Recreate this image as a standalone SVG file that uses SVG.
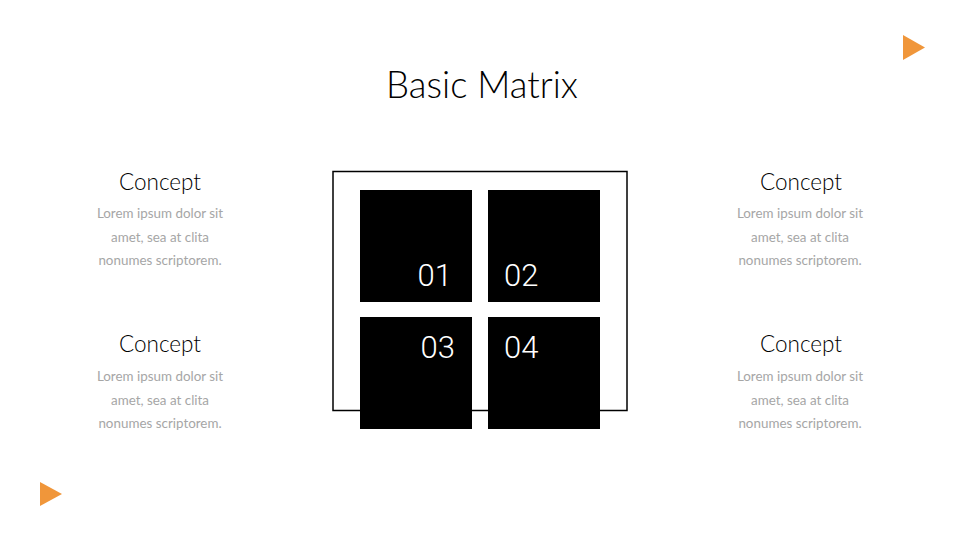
<svg xmlns="http://www.w3.org/2000/svg" width="960" height="540" viewBox="0 0 960 540">
<style>
.title{font-family:Lato,"Noto Sans",sans-serif;font-size:36.5px;font-weight:300;fill:#000;text-anchor:middle}
.head{font-family:Lato,"Noto Sans",sans-serif;font-size:22.5px;font-weight:300;fill:#000;text-anchor:middle}
.body{font-family:Lato,"Noto Sans",sans-serif;font-size:13.4px;fill:#A6A6A6;text-anchor:middle}
.num{font-family:Roboto,"Open Sans",sans-serif;font-size:31px;font-weight:300;fill:#fff}
.sq{fill:#000}
.tri{fill:#F0963A}
</style>
<rect width="960" height="540" fill="#fff"/>
<polygon class="tri" points="903,35 925,47.5 903,60"/>
<polygon class="tri" points="40,482 62,494 40,506"/>
<text class="title" x="482" y="98">Basic Matrix</text>
<g id="matrix">
<rect x="333" y="171.5" width="294" height="239" fill="none" stroke="#000" stroke-width="1.5"/>
<g id="q1"><rect class="sq" x="360" y="190" width="112" height="112"/><text class="num" x="452" y="286" text-anchor="end">01</text></g>
<g id="q2"><rect class="sq" x="488" y="190" width="112" height="112"/><text class="num" x="504" y="286">02</text></g>
<g id="q3"><rect class="sq" x="360" y="317" width="112" height="112"/><text class="num" x="455" y="358" text-anchor="end">03</text></g>
<g id="q4"><rect class="sq" x="488" y="317" width="112" height="112"/><text class="num" x="504" y="358">04</text></g>
</g>
<g id="concept-tl">
<text class="head" x="160" y="190">Concept</text>
<text class="body" x="160" y="218">Lorem ipsum dolor sit</text>
<text class="body" x="160" y="241.5">amet, sea at clita</text>
<text class="body" x="160" y="265">nonumes scriptorem.</text>
</g>
<g id="concept-bl">
<text class="head" x="160" y="352">Concept</text>
<text class="body" x="160" y="381">Lorem ipsum dolor sit</text>
<text class="body" x="160" y="404.5">amet, sea at clita</text>
<text class="body" x="160" y="428">nonumes scriptorem.</text>
</g>
<g id="concept-tr">
<text class="head" x="801" y="190">Concept</text>
<text class="body" x="800" y="218">Lorem ipsum dolor sit</text>
<text class="body" x="800" y="241.5">amet, sea at clita</text>
<text class="body" x="800" y="265">nonumes scriptorem.</text>
</g>
<g id="concept-br">
<text class="head" x="801" y="352">Concept</text>
<text class="body" x="800" y="381">Lorem ipsum dolor sit</text>
<text class="body" x="800" y="404.5">amet, sea at clita</text>
<text class="body" x="800" y="428">nonumes scriptorem.</text>
</g>
</svg>
